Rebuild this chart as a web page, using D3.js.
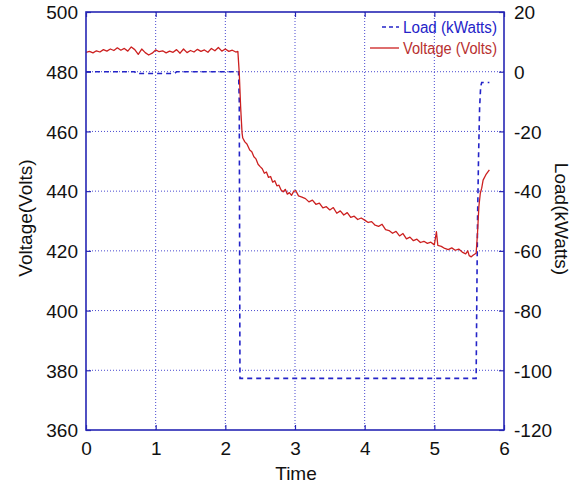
<!DOCTYPE html>
<html>
<head>
<meta charset="utf-8">
<script src="https://cdn.jsdelivr.net/npm/d3@7.9.0/dist/d3.min.js"></script>
<style>
  body { margin: 0; background: #fff; }
  svg { font-family: "Liberation Sans", Arial, Helvetica, sans-serif; }
</style>
</head>
<body>
<svg id="chart" width="581" height="484"></svg>
<script>
// --- Data ---
const xTicks = [0, 1, 2, 3, 4, 5, 6];
const voltTicks = [360, 380, 400, 420, 440, 460, 480, 500];
const loadTicks = [-120, -100, -80, -60, -40, -20, 0, 20];

// voltage (left axis)
const voltTime = [
  0.00, 0.05, 0.10, 0.15, 0.20, 0.25, 0.30, 0.35, 0.40, 0.45, 0.50, 0.55, 0.60, 0.65, 0.70,
  0.75, 0.80, 0.85, 0.90, 0.95, 1.00, 1.05, 1.10, 1.15, 1.20, 1.25, 1.30, 1.35, 1.40, 1.45,
  1.50, 1.55, 1.60, 1.65, 1.70, 1.75, 1.80, 1.85, 1.90, 1.95, 2.00, 2.05, 2.10, 2.15, 2.18,
  2.20, 2.22, 2.24, 2.25, 2.28, 2.31, 2.35, 2.38, 2.41, 2.44, 2.47, 2.50, 2.53, 2.56, 2.59,
  2.62, 2.65, 2.68, 2.71, 2.74, 2.77, 2.80, 2.83, 2.86, 2.89, 2.92, 2.95, 2.98, 3.01, 3.05,
  3.10, 3.15, 3.20, 3.25, 3.30, 3.35, 3.40, 3.45, 3.50, 3.55, 3.60, 3.65, 3.70, 3.75, 3.80,
  3.85, 3.90, 3.95, 4.00, 4.05, 4.10, 4.15, 4.20, 4.25, 4.30, 4.35, 4.40, 4.45, 4.50, 4.55,
  4.60, 4.65, 4.70, 4.75, 4.80, 4.85, 4.90, 4.95, 5.00, 5.03, 5.05, 5.10, 5.15, 5.20, 5.25,
  5.30, 5.35, 5.40, 5.45, 5.48, 5.50, 5.53, 5.56, 5.60, 5.62, 5.64, 5.66, 5.68, 5.70, 5.74,
  5.79
];
const voltage = [
  486.5, 486.8, 486.3, 487.0, 486.6, 487.4, 486.9, 487.6, 487.1, 488.0, 487.2, 487.8, 486.9, 488.3, 487.4,
  485.8, 487.6, 486.4, 485.6, 486.2, 487.3, 486.7, 487.0, 486.3, 486.9, 486.5, 487.4, 486.2, 487.6, 486.4,
  487.1, 486.6, 487.5, 486.8, 487.3, 486.5, 487.8, 487.0, 488.1, 486.9, 487.6, 486.8, 487.2, 486.6, 486.8,
  479.5, 468.0, 459.5, 457.8, 456.5, 455.8, 453.8, 453.2, 451.5, 450.8, 449.0, 448.2, 447.5, 446.0, 446.4,
  444.6, 444.9, 443.0, 443.5, 441.8, 442.0, 440.4, 439.8, 440.6, 439.0, 439.5, 438.6, 439.9, 440.2, 438.4,
  438.0, 437.5, 436.4, 437.0, 435.6, 436.0, 434.4, 434.8, 433.7, 434.5, 432.6, 433.4, 432.0, 432.8, 431.2,
  431.6, 430.5, 431.0, 430.3, 429.5, 429.8, 428.6, 428.2, 428.9, 427.1, 426.8, 425.9, 426.5, 425.0, 425.8,
  424.0, 424.6, 423.4, 423.9, 422.8, 423.2, 422.5, 422.9, 422.0, 426.4, 421.8, 421.5, 420.8, 420.4, 421.0,
  420.2, 420.6, 419.6, 419.0, 420.0, 418.4, 418.0, 418.6, 419.2, 426.0, 435.0, 439.3, 441.0, 443.7, 445.5,
  447.1
];

// load (right axis)
const loadTime = [0, 0.70, 0.72, 1.27, 1.30, 2.19, 2.20, 2.21, 5.60, 5.61, 5.62, 5.635, 5.65, 5.665, 5.68, 5.79];
const loadKW   = [0, 0, -0.6, -0.6, 0, 0, -10, -102.7, -102.7, -75, -50, -28, -12, -5, -3.6, -3.6];

// --- Layout ---
const svg = d3.select('#chart');
const plotLeft = 86, plotRight = 504, plotTop = 12, plotBottom = 430;
const frameBlue = '#2626b4';
const gridBlue = '#4a4ad0';
const red = '#cc2020';

const x = d3.scaleLinear().domain([0, 6]).range([plotLeft, plotRight]);
const yV = d3.scaleLinear().domain([360, 500]).range([plotBottom, plotTop]);
const yL = d3.scaleLinear().domain([-120, 20]).range([plotBottom, plotTop]);

// dotted grid
const grid = svg.append('g')
  .attr('stroke', gridBlue).attr('stroke-width', 1).attr('stroke-dasharray', '1,2');
grid.selectAll('.gx').data(xTicks.slice(1, -1)).join('line')
  .attr('x1', d => x(d)).attr('x2', d => x(d)).attr('y1', plotTop).attr('y2', plotBottom);
grid.selectAll('.gy').data(voltTicks.slice(1, -1)).join('line')
  .attr('y1', d => yV(d)).attr('y2', d => yV(d)).attr('x1', plotLeft).attr('x2', plotRight);

// load series
const loadLine = d3.line().x((d, i) => x(loadTime[i])).y(d => yL(d));
svg.append('path')
  .attr('d', loadLine(loadKW))
  .attr('fill', 'none').attr('stroke', '#2424c8').attr('stroke-width', 1.6)
  .attr('stroke-dasharray', '5,4');

// voltage series
const voltLine = d3.line().x((d, i) => x(voltTime[i])).y(d => yV(d));
svg.append('path')
  .attr('d', voltLine(voltage))
  .attr('fill', 'none').attr('stroke', red).attr('stroke-width', 1.3)
  .attr('stroke-linejoin', 'round');

// axes (ticks inward); plain hyphen for negatives like the original
const plain = d => String(d);
const fs = '19px';
const gl = svg.append('g').attr('transform', `translate(${plotLeft},0)`)
  .call(d3.axisLeft(yV).tickValues(voltTicks).tickFormat(plain)
    .tickSizeInner(-5).tickSizeOuter(0).tickPadding(8));
const gr = svg.append('g').attr('transform', `translate(${plotRight},0)`)
  .call(d3.axisRight(yL).tickValues(loadTicks).tickFormat(plain)
    .tickSizeInner(-5).tickSizeOuter(0).tickPadding(10));
const gb = svg.append('g').attr('transform', `translate(0,${plotBottom})`)
  .call(d3.axisBottom(x).tickValues(xTicks).tickFormat(plain)
    .tickSizeInner(-5).tickSizeOuter(0).tickPadding(11));
const gt = svg.append('g').attr('transform', `translate(0,${plotTop})`)
  .call(d3.axisTop(x).tickValues(xTicks).tickSizeInner(-5).tickSizeOuter(0).tickFormat(''));

[gl, gr, gb, gt].forEach(g => {
  g.select('.domain').remove();
  g.selectAll('line').attr('stroke', frameBlue).attr('stroke-width', 1.2);
  g.selectAll('text').attr('fill', '#111').style('font-size', fs)
    .style('font-family', '"Liberation Sans", Arial, sans-serif');
});
gl.selectAll('text').attr('dy', '0.36em');
gr.selectAll('text').attr('dy', '0.36em');
gb.selectAll('text').attr('dy', '0.72em');

// frame
svg.append('rect')
  .attr('x', plotLeft).attr('y', plotTop)
  .attr('width', plotRight - plotLeft).attr('height', plotBottom - plotTop)
  .attr('fill', 'none').attr('stroke', frameBlue).attr('stroke-width', 1.6);

// axis titles
svg.append('text').attr('x', 296).attr('y', 480).attr('text-anchor', 'middle')
  .style('font-size', '19px').attr('fill', '#111').text('Time');
svg.append('text').attr('transform', 'translate(32,218) rotate(-90)').attr('text-anchor', 'middle')
  .style('font-size', '19px').attr('fill', '#111').text('Voltage(Volts)');
svg.append('text').attr('transform', 'translate(555,219) rotate(90)').attr('text-anchor', 'middle')
  .style('font-size', '19px').attr('fill', '#111').text('Load(kWatts)');

// legend
const legend = svg.append('g');
legend.append('line').attr('x1', 382).attr('x2', 399).attr('y1', 27).attr('y2', 27)
  .attr('stroke', '#2424c8').attr('stroke-width', 1.6).attr('stroke-dasharray', '4,3');
legend.append('text').attr('x', 403).attr('y', 32.5)
  .attr('textLength', 94).attr('lengthAdjust', 'spacingAndGlyphs')
  .style('font-size', '16px').attr('fill', '#2424c8').text('Load (kWatts)');
legend.append('line').attr('x1', 370).attr('x2', 399).attr('y1', 48).attr('y2', 48)
  .attr('stroke', red).attr('stroke-width', 1.3);
legend.append('text').attr('x', 403).attr('y', 53.5)
  .attr('textLength', 94).attr('lengthAdjust', 'spacingAndGlyphs')
  .style('font-size', '16px').attr('fill', '#b83030').text('Voltage (Volts)');
</script>
</body>
</html>
